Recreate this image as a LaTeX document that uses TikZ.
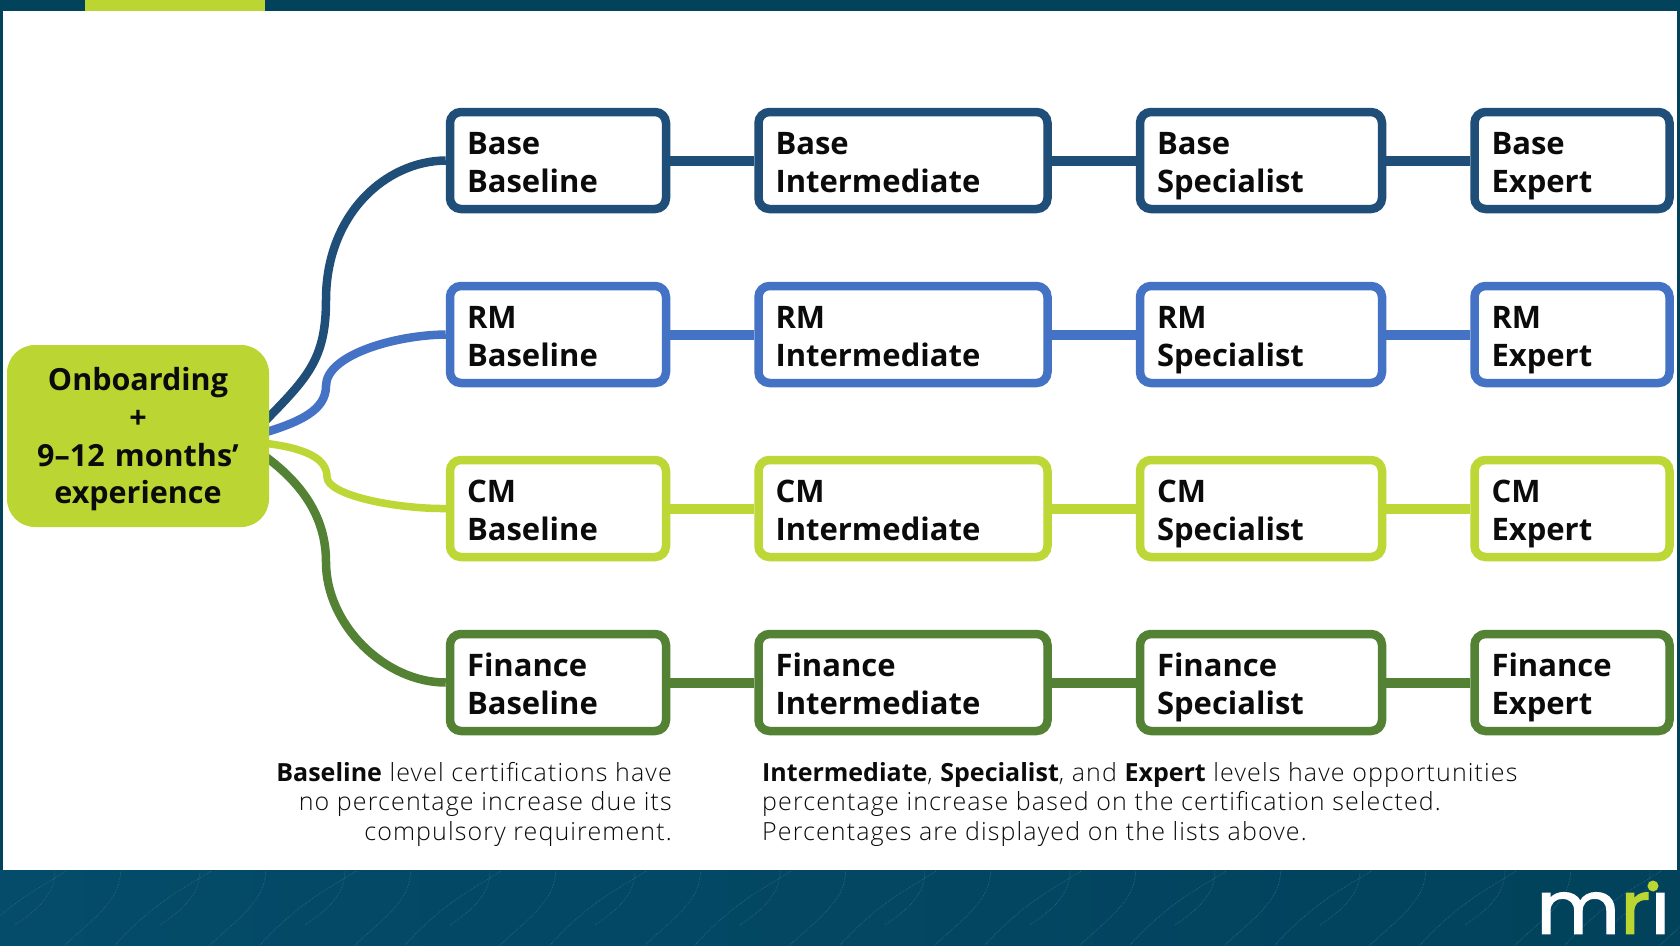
\documentclass[tikz,border=0pt]{standalone}
\usepackage{fontspec}
\setmainfont{Open Sans}
\newfontfamily\notefont{Open Sans Light}[LetterSpace=4.5]
\newfontfamily\logofont{Poppins}[FakeBold=1.6,FakeStretch=1.1]
\newcommand\heavy[1]{{\rmfamily\bfseries #1}}
\usepackage{tikz}
\usetikzlibrary{positioning}
\usetikzlibrary{backgrounds}
\definecolor{darkband}{HTML}{02425B}
\definecolor{bandleft}{HTML}{044C6A}
\definecolor{leafline}{HTML}{2A6780}
\definecolor{limegreen}{HTML}{BBD632}
\definecolor{basecol}{HTML}{1F4E79}
\definecolor{rmcol}{HTML}{4472C4}
\definecolor{cmcol}{HTML}{BDD737}
\definecolor{fincol}{HTML}{548235}
\definecolor{inkcol}{HTML}{0B0B0B}

\begin{document}
\begin{tikzpicture}[x=1pt,y=-1pt,
	level/.style={draw=#1,line width=8.5pt,fill=white,rounded corners=11pt,minimum height=97pt,inner ysep=0pt,inner xsep=17pt,align=left,font=\fontsize{31}{37.6}\bfseries\selectfont,text=inkcol,execute at begin node={\rule{0pt}{34pt}},execute at end node={\vphantom{p}}},
	wbase/.style={level=#1,minimum width=216pt,text width=182pt},
	wmid/.style={level=#1,minimum width=289pt,text width=255pt},
	wspec/.style={level=#1,minimum width=242pt,text width=208pt},
	wexp/.style={level=#1,minimum width=195pt,text width=161pt},
	link/.style={draw=#1,line width=8.5pt},
	rowlink/.style={draw=#1,line width=10pt},
	note/.style={font=\notefont\fontsize{25}{29.6}\selectfont,text=inkcol,inner sep=0pt}]
	\useasboundingbox (0,0) rectangle (1680,945);
	% leaves of the footer band
	\begin{scope}
		\clip (0,871) rectangle (1680,945);
		\foreach \i in {0,...,11}{
			\draw[leafline,densely dotted,line width=.7pt] (\i*145-30,945) .. controls (\i*145+20,890) and (\i*145+60,880) .. (\i*145+80,860);
			\draw[leafline,densely dotted,line width=.7pt] (\i*145+15,925) .. controls (\i*145+45,905) and (\i*145+55,890) .. (\i*145+55,870);
			\draw[leafline,densely dotted,line width=.7pt] (\i*145+60,950) .. controls (\i*145+90,920) and (\i*145+125,900) .. (\i*145+120,865);
		}
	\end{scope}
	\fill[limegreen] (85,0) rectangle (265,11);

	\node [fill=limegreen,rounded corners=28pt,minimum width=262pt,minimum height=182pt,inner sep=0pt,text width=250pt,align=center,font=\fontsize{30.5}{37.6}\bfseries\selectfont,text=inkcol,execute at begin node={\rule{0pt}{30pt}}] (start) at (138,436) {Onboarding\\+\\9–12 months’\\experience};

	\node [wbase=basecol] (basebl) at (558,160.5) {Base\\Baseline};
	\node [wmid=basecol,right=84pt of basebl] (baseint) {Base\\Intermediate};
	\node [wspec=basecol,right=84pt of baseint] (basespec) {Base\\Specialist};
	\node [wexp=basecol,right=84pt of basespec] (baseexp) {Base\\Expert};

	\node [wbase=rmcol,below=68.5pt of basebl] (rmbl) {RM\\Baseline};
	\node [wmid=rmcol,right=84pt of rmbl] (rmint) {RM\\Intermediate};
	\node [wspec=rmcol,right=84pt of rmint] (rmspec) {RM\\Specialist};
	\node [wexp=rmcol,right=84pt of rmspec] (rmexp) {RM\\Expert};

	\node [wbase=cmcol,below=68.5pt of rmbl] (cmbl) {CM\\Baseline};
	\node [wmid=cmcol,right=84pt of cmbl] (cmint) {CM\\Intermediate};
	\node [wspec=cmcol,right=84pt of cmint] (cmspec) {CM\\Specialist};
	\node [wexp=cmcol,right=84pt of cmspec] (cmexp) {CM\\Expert};

	\node [wbase=fincol,below=68.5pt of cmbl] (finbl) {Finance\\Baseline};
	\node [wmid=fincol,right=84pt of finbl] (finint) {Finance\\Intermediate};
	\node [wspec=fincol,right=84pt of finint] (finspec) {Finance\\Specialist};
	\node [wexp=fincol,right=84pt of finspec] (finexp) {Finance\\Expert};

	\begin{scope}[on background layer]
		\fill[darkband] (0,0) rectangle (1680,945);
		\shade[left color=bandleft,right color=darkband] (0,870) rectangle (1680,945);
		\fill[white] (3,11) rectangle (1677,870);
		\coordinate (basemid) at (326,300);
		\coordinate (rmmid) at (326,386);
		\coordinate (cmmid) at (327,477);
		\coordinate (finmid) at (326,562);
		\draw[link=basecol] ([xshift=-6pt,yshift=13pt]start.east) .. controls (307,378) and (326,360) .. (basemid) .. controls (326,215) and (385,161) .. (basebl.west);
		\draw[link=rmcol] ([xshift=-6pt,yshift=3pt]start.east) .. controls (300,422) and (326,410) .. (rmmid) .. controls (326,355) and (395,335) .. (rmbl.west);
		\draw[link=cmcol,line width=7.5pt] ([xshift=-6pt,yshift=-7pt]start.east) .. controls (305,448) and (327,458) .. (cmmid) .. controls (327,495) and (395,509) .. (cmbl.west);
		\draw[link=fincol] ([xshift=-6pt,yshift=-19pt]start.east) .. controls (305,485) and (326,520) .. (finmid) .. controls (326,625) and (385,682.5) .. (finbl.west);
	\end{scope}

	\draw[rowlink=basecol] (basebl) -- (baseint) -- (basespec) -- (baseexp);
	\draw[rowlink=rmcol] (rmbl) -- (rmint) -- (rmspec) -- (rmexp);
	\draw[rowlink=cmcol] (cmbl) -- (cmint) -- (cmspec) -- (cmexp);
	\draw[rowlink=fincol] (finbl) -- (finint) -- (finspec) -- (finexp);

	\node [note,align=right,anchor=north east] (noteleft) at (672,762) {\heavy{Baseline} level certifications have\\no percentage increase due its\\compulsory requirement.};
	\node [note,align=left,anchor=north west] (noteright) at (762,762) {\heavy{Intermediate}, \heavy{Specialist}, and \heavy{Expert} levels have opportunities\\percentage increase based on the certification selected.\\Percentages are displayed on the lists above.};

	% logo
	\node [inner sep=0pt,anchor=south west,font=\logofont\fontsize{74}{74}\selectfont] (logo) at (1536,934) {\textcolor{white}{m}\textcolor{limegreen}{r}\textcolor{white}{ı}};
	\fill[limegreen] (1653,886) circle (5.5);
\end{tikzpicture}
\end{document}
